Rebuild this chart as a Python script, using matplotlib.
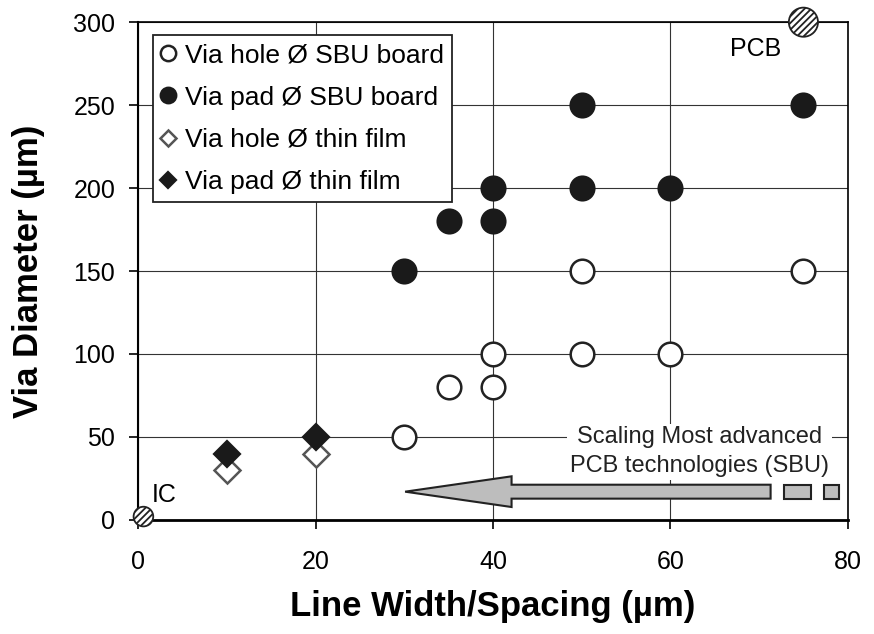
import matplotlib
matplotlib.use("Agg")
import matplotlib.pyplot as plt
from matplotlib.patches import FancyArrow, Rectangle

plt.rcParams['font.family'] = ['Liberation Sans', 'DejaVu Sans']
plt.rcParams['hatch.linewidth'] = 1.3

# via hole / via pad on SBU boards
sbu_hole_x = [30, 35, 40, 40, 50, 60, 50, 75]
sbu_hole_y = [50, 80, 80, 100, 100, 100, 150, 150]
sbu_pad_x = [30, 35, 40, 40, 50, 60, 50, 75]
sbu_pad_y = [150, 180, 180, 200, 200, 200, 250, 250]
# thin film
tf_hole_x = [10, 20]
tf_hole_y = [30, 40]
tf_pad_x = [10, 20]
tf_pad_y = [40, 50]
# reference points
ref_names = ["PCB", "IC"]
ref_x = [75, 0.6]
ref_y = [300, 2]

fig = plt.figure(figsize=(8.74, 6.34), dpi=100)
ax = fig.add_axes([0.158, 0.180, 0.812, 0.785])

ax.set_xlim(0, 80)
ax.set_ylim(0, 300)
ax.set_xticks([0, 20, 40, 60, 80])
ax.set_yticks([0, 50, 100, 150, 200, 250, 300])
ax.grid(True, color='#333333', linewidth=0.8)
ax.set_axisbelow(True)
for s in ax.spines.values():
    s.set_linewidth(1.2)
ax.spines['bottom'].set_linewidth(2)
ax.spines['left'].set_linewidth(1.5)
ax.tick_params(labelsize=18, length=6.5, direction='out', width=1.2)
ax.tick_params(axis='x', pad=15)
ax.tick_params(axis='y', pad=10)

ax.plot(sbu_hole_x, sbu_hole_y, 'o', ms=17, mfc='white', mec='#222222', mew=1.8,
        label='Via hole Ø SBU board', zorder=4)
ax.plot(sbu_pad_x, sbu_pad_y, 'o', ms=17, mfc='#1a1a1a', mec='#1a1a1a', mew=1.8,
        label='Via pad Ø SBU board', zorder=4)
ax.plot(tf_hole_x, tf_hole_y, 'D', ms=13, mfc='white', mec='#555555', mew=1.8,
        label='Via hole Ø thin film', zorder=4)
ax.plot(tf_pad_x, tf_pad_y, 'D', ms=13, mfc='#1a1a1a', mec='#1a1a1a', mew=1.6,
        label='Via pad Ø thin film', zorder=5)

ax.scatter(ref_x, ref_y, s=[440, 200], facecolor='white', edgecolor='#222222',
           hatch='/////', linewidth=1.3, zorder=6, clip_on=False)
ax.text(69.6, 284, ref_names[0], fontsize=18, ha='center', va='center')
ax.text(2.9, 15, ref_names[1], fontsize=18, ha='center', va='center')

# scaling arrow
ax.add_patch(FancyArrow(71.3, 17, -41.2, 0, width=8.4, head_width=18.5,
                        head_length=12, length_includes_head=True,
                        facecolor='#bdbdbd', edgecolor='#222222', linewidth=1.5, zorder=5))
ax.add_patch(Rectangle((72.8, 12.8), 3.1, 8.4, facecolor='#bdbdbd',
                       edgecolor='#222222', linewidth=1.5, zorder=5))
ax.add_patch(Rectangle((77.3, 12.8), 1.7, 8.4, facecolor='#bdbdbd',
                       edgecolor='#222222', linewidth=1.5, zorder=5))
ax.text(63.3, 41, 'Scaling Most advanced\nPCB technologies (SBU)', fontsize=17,
        ha='center', va='center', linespacing=1.4, color='#222222',
        bbox=dict(facecolor='white', edgecolor='none', pad=2), zorder=5)

ax.set_xlabel('Line Width/Spacing (µm)', fontsize=25, fontweight='bold', labelpad=12)
ax.set_ylabel('Via Diameter (µm)', fontsize=25, fontweight='bold', labelpad=20)

leg = ax.legend(loc='upper left', bbox_to_anchor=(0.021, 0.974), fontsize=19,
                markerscale=0.65, handlelength=0.5, handletextpad=0.4,
                borderaxespad=0, fancybox=False, framealpha=1, labelspacing=0.7,
                borderpad=0.3)
leg.get_frame().set_edgecolor('#222222')
leg.get_frame().set_linewidth(1.3)
leg.set_zorder(7)

fig.savefig('out.png', dpi=100)
